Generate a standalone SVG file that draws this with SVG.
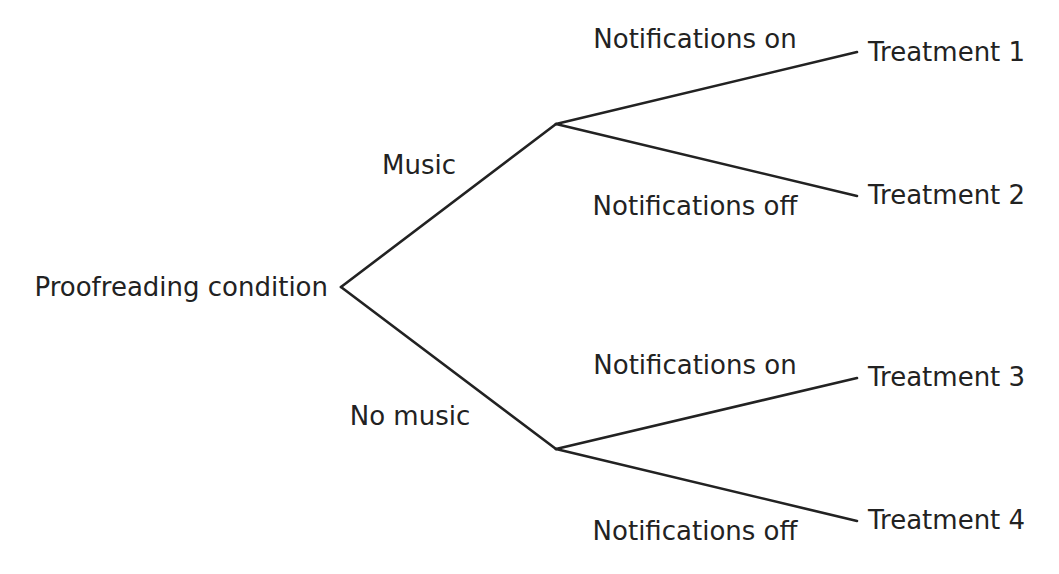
<svg xmlns="http://www.w3.org/2000/svg" width="1059" height="574" viewBox="0 0 1059 574">
<style>
text{font-family:"DejaVu Sans","Liberation Sans",sans-serif;font-size:26px;fill:#222}
.c{text-anchor:middle}
.e{text-anchor:end}
line{stroke:#222;stroke-width:2.6;stroke-linecap:round}
</style>
<rect width="1059" height="574" fill="#fff"/>
<g id="connectors">
<line x1="341" y1="287" x2="556" y2="124"/>
<line x1="341" y1="287" x2="556" y2="449"/>
<line x1="556" y1="124" x2="857" y2="52"/>
<line x1="556" y1="124" x2="857" y2="196"/>
<line x1="556" y1="449" x2="857" y2="378"/>
<line x1="556" y1="449" x2="857" y2="521"/>
</g>
<g id="root"><text class="e" x="328" y="296">Proofreading condition</text></g>
<g id="music-label"><text class="c" x="419" y="174">Music</text></g>
<g id="nomusic-label"><text class="c" x="410" y="425">No music</text></g>
<g id="n-on-1"><text class="c" x="695" y="48">Notifications on</text></g>
<g id="n-off-1"><text class="c" x="695" y="215">Notifications off</text></g>
<g id="n-on-2"><text class="c" x="695" y="374">Notifications on</text></g>
<g id="n-off-2"><text class="c" x="695" y="540">Notifications off</text></g>
<g id="t1"><text x="868" y="61">Treatment 1</text></g>
<g id="t2"><text x="868" y="204">Treatment 2</text></g>
<g id="t3"><text x="868" y="386">Treatment 3</text></g>
<g id="t4"><text x="868" y="529">Treatment 4</text></g>
</svg>
